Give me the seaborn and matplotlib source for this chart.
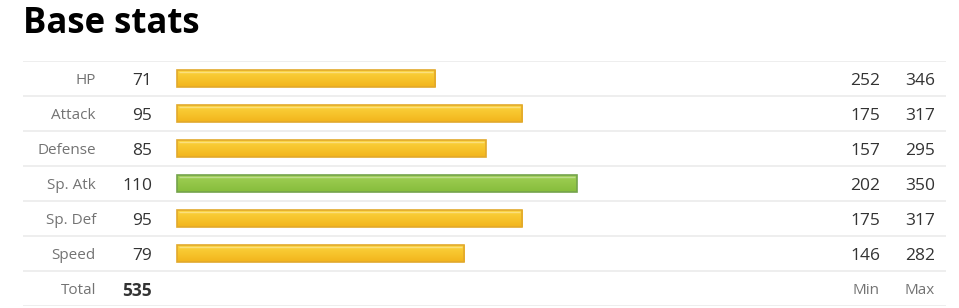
import matplotlib
matplotlib.use("Agg")
import matplotlib.pyplot as plt
import seaborn as sns
import numpy as np
import pandas as pd
from matplotlib.colors import LinearSegmentedColormap

stats = ["HP", "Attack", "Defense", "Sp. Atk", "Sp. Def", "Speed"]
values = [71, 95, 85, 110, 95, 79]
mins = [252, 175, 157, 202, 175, 146]
maxs = [346, 317, 295, 350, 317, 282]
total_label = "Total"
total_value = 535
min_label = "Min"
max_label = "Max"
title = "Base stats"

tier = ["high" if v >= 110 else "mid" for v in values]
df = pd.DataFrame({"stat": stats, "value": values, "tier": tier})

sns.set_theme(style="white")
plt.rcParams["font.family"] = ["Open Sans", "DejaVu Sans"]

W, H = 959, 308
fig = plt.figure(figsize=(W / 100, H / 100), dpi=100)
ax = fig.add_axes([23 / W, 1 - 306 / H, (946 - 23) / W, (306 - 61) / H])

fills = {"mid": "#f7c12a", "high": "#8dc343"}
edges = {"mid": "#e2a92c", "high": "#74a34c"}
grad = {"mid": ("#fcd63f", "#f2b41c"), "high": ("#a2d056", "#86bd3c")}

sns.barplot(data=df, x="value", y="stat", hue="tier", palette=fills,
            order=stats, hue_order=["mid", "high"], dodge=False, saturation=1,
            width=0.49, legend=False, ax=ax, linewidth=1.2)

ppu = 3.634
xl = (-(177 - 23) / ppu, (946 - 177) / ppu)
yl = (len(stats) + 0.5, -0.5)

# gradient + edges
for patch in list(ax.patches):
    w = patch.get_width()
    if w <= 0:
        continue
    x0, y0 = patch.get_x(), patch.get_y()
    h = patch.get_height()
    row = int(round(y0 + h / 2))
    key = tier[row]
    patch.set_edgecolor(edges[key])
    cmap = LinearSegmentedColormap.from_list("g", [grad[key][0], grad[key][1]])
    img = ax.imshow(np.linspace(0, 1, 64).reshape(-1, 1), cmap=cmap, aspect="auto",
                    extent=(x0, x0 + w, y0 + h, y0), zorder=patch.get_zorder() + 0.1,
                    interpolation="bicubic")
    img.set_clip_path(patch)
    ax.plot([x0 + 0.5, x0 + w - 0.5], [y0 + h * 0.12, y0 + h * 0.12],
            color="white", alpha=0.35, lw=1, zorder=patch.get_zorder() + 0.2,
            solid_capstyle="butt")
    patch.set_zorder(patch.get_zorder() + 0.3)
    patch.set_facecolor("none")

ax.set_xlim(*xl)
ax.set_ylim(*yl)
ax.axis("off")

# row separators
for b in np.arange(-0.5, len(stats) + 1, 1.0):
    ax.axhline(b, color="#e9e9e9", lw=1.1, zorder=0)

lab_x = (96 - 177) / ppu
val_x = (152 - 177) / ppu
min_x = (880 - 177) / ppu
max_x = (935 - 177) / ppu
lab_c = "#737373"
val_c = "#333333"
lab_fs = 11
val_fs = 12.5

for i, (s, v, mn, mx) in enumerate(zip(stats, values, mins, maxs)):
    ax.text(lab_x, i, s, ha="right", va="center_baseline", fontsize=lab_fs, color=lab_c)
    ax.text(val_x, i, str(v), ha="right", va="center_baseline", fontsize=val_fs, color=val_c)
    ax.text(min_x, i, str(mn), ha="right", va="center_baseline", fontsize=val_fs, color=val_c)
    ax.text(max_x, i, str(mx), ha="right", va="center_baseline", fontsize=val_fs, color=val_c)

ti = len(stats)
ax.text(lab_x, ti, total_label, ha="right", va="center_baseline", fontsize=lab_fs, color=lab_c)
ax.text(val_x, ti, str(total_value), ha="right", va="center_baseline", fontsize=val_fs,
        color=val_c, fontweight="bold")
ax.text(min_x, ti, min_label, ha="right", va="center_baseline", fontsize=lab_fs, color=lab_c)
ax.text(max_x, ti, max_label, ha="right", va="center_baseline", fontsize=lab_fs, color=lab_c)

fig.text(23 / W, 1 - 33 / H, title, ha="left", va="baseline", fontsize=25,
         fontweight="bold", color="#000000")

fig.savefig("out.png", dpi=100)
